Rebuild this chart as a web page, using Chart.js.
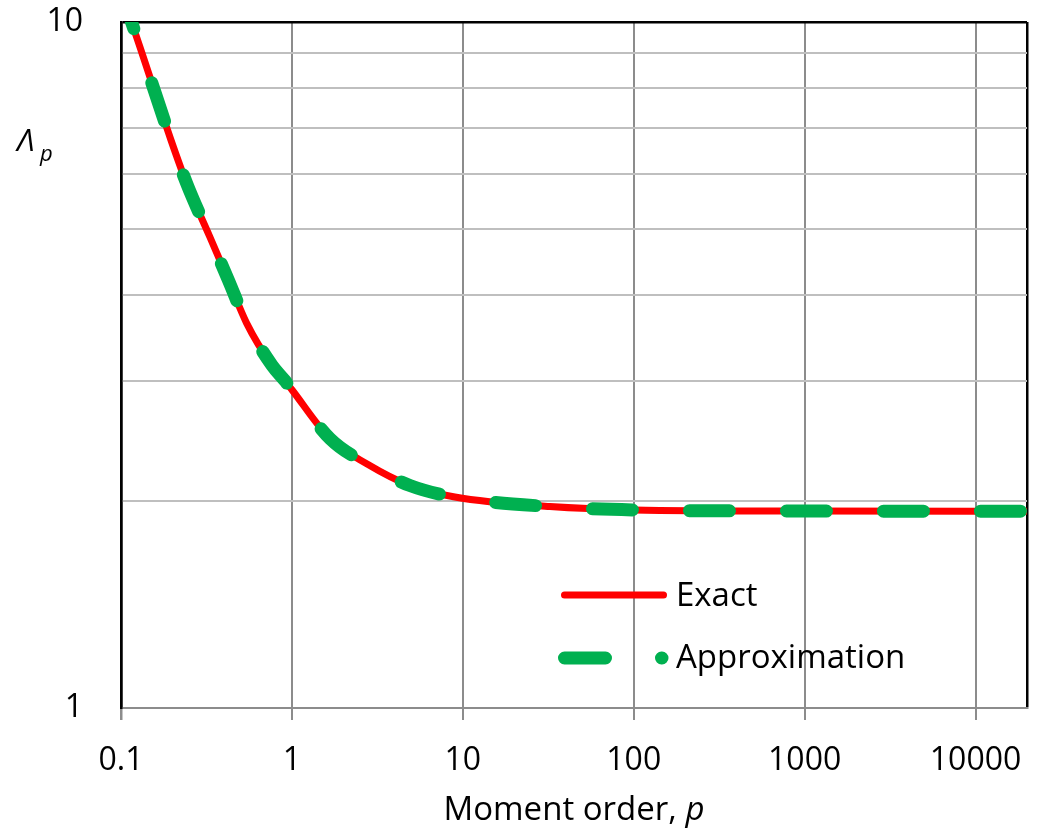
<!DOCTYPE html>
<html>
<head>
<meta charset="utf-8">
<script src="https://cdn.jsdelivr.net/npm/chart.js@4.4.0/dist/chart.umd.min.js"></script>
<style>
  body { margin: 0; background: #fff; }
  #wrap { position: relative; width: 1037px; height: 831px; font-family: 'Open Sans', sans-serif; color: #000; }
  .lbl { position: absolute; white-space: nowrap; line-height: 1; }
  #legendSvg { position: absolute; left: 0; top: 0; }
</style>
</head>
<body>
<div id="wrap">
  <canvas id="chart" width="1037" height="831"></canvas>

  <!-- y title -->
  <div class="lbl" style="left:17px; top:124px; font-size:31px; font-style:italic;">Λ</div>
  <div class="lbl" style="left:40px; top:141px; font-size:22px; font-style:italic;">p</div>

  <!-- x title -->
  <div class="lbl" style="left:121px; width:906px; top:791px; font-size:33px; text-align:center;">Moment order, <i>p</i></div>

  <!-- legend -->
  <svg id="legendSvg" width="1037" height="831">
    <line x1="564.5" y1="595" x2="663.5" y2="595" stroke="#ff0000" stroke-width="7" stroke-linecap="round"/>
    <line x1="564.5" y1="658" x2="662" y2="658" stroke="#00b050" stroke-width="13" stroke-linecap="round" stroke-dasharray="41 56"/>
  </svg>
  <div class="lbl" style="left:676px; top:577px; font-size:33px;">Exact</div>
  <div class="lbl" style="left:676px; top:639px; font-size:33px;">Approximation</div>
</div>

<script>
// moment order p and Lambda_p
const pValues = [0.1, 0.129, 0.196, 0.242, 0.331, 0.424, 0.543, 0.764, 0.91, 1, 1.67, 2.74, 4.9, 8.98, 32.3, 100, 1000, 10000, 20000];
const exactValues = [11.1, 9.2, 6.73, 5.82, 4.86, 4.21, 3.64, 3.16, 3.0, 2.91, 2.47, 2.27, 2.11, 2.03, 1.966, 1.944, 1.937, 1.936, 1.936];
const approxValues = [11.1, 9.2, 6.73, 5.82, 4.86, 4.21, 3.64, 3.16, 3.0, 2.91, 2.47, 2.27, 2.11, 2.03, 1.966, 1.944, 1.937, 1.936, 1.936];

// axis ticks
const xTicks = [0.1, 1, 10, 100, 1000, 10000, 20000];
const xTickLabels = ['0.1', '1', '10', '100', '1000', '10000', ''];
const yTicks = [1, 2, 3, 4, 5, 6, 7, 8, 9, 10];
const yTickLabels = ['1', '', '', '', '', '', '', '', '', '10'];

const toPoints = (xs, ys) => xs.map((x, i) => ({ x: x, y: ys[i] }));

const tickFont = { family: "'Open Sans', sans-serif", size: 32 };

// keep the plot area where the picture has it, labels may overhang
const noOverhang = scale => {
  scale.paddingTop = 0;
  scale.paddingBottom = 0;
  scale.paddingLeft = 0;
  scale.paddingRight = 0;
};

const ctx = document.getElementById('chart').getContext('2d');
const chart = new Chart(ctx, {
  type: 'line',
  data: {
    datasets: [{
      label: 'Exact',
      data: toPoints(pValues, exactValues),
      borderColor: '#ff0000',
      borderWidth: 7,
      pointRadius: 0,
      cubicInterpolationMode: 'monotone',
      clip: 0,
      order: 1
    }, {
      label: 'Approximation',
      data: toPoints(pValues, approxValues),
      borderColor: '#00b050',
      borderWidth: 13,
      borderDash: [40, 57],
      borderCapStyle: 'round',
      pointRadius: 0,
      cubicInterpolationMode: 'monotone',
      clip: 0,
      order: 0
    }]
  },
  options: {
    responsive: false,
    animation: false,
    layout: { padding: { top: 22, right: 10, left: 0, bottom: 0 } },
    plugins: {
      legend: { display: false },
      tooltip: { enabled: false }
    },
    scales: {
      x: {
        type: 'logarithmic',
        min: 0.1,
        max: 20000,
        afterBuildTicks: scale => { scale.ticks = xTicks.map(v => ({ value: v })); },
        afterFit: scale => { scale.height = 123; noOverhang(scale); },
        ticks: {
          autoSkip: false,
          maxRotation: 0,
          padding: 22,
          color: '#000',
          font: tickFont,
          callback: v => xTickLabels[xTicks.indexOf(v)]
        },
        grid: {
          color: c => (c.tick && (c.tick.value === 0.1 || c.tick.value === 20000)) ? '#000' : '#8c8c8c',
          lineWidth: c => (c.tick && (c.tick.value === 0.1 || c.tick.value === 20000)) ? 2.5 : 2,
          tickColor: c => (c.tick && c.tick.value === 20000) ? 'rgba(0,0,0,0)' : '#8c8c8c',
          tickLength: 12
        },
        border: { display: true, color: '#8c8c8c', width: 2 }
      },
      y: {
        type: 'logarithmic',
        min: 1,
        max: 10,
        afterBuildTicks: scale => { scale.ticks = yTicks.map(v => ({ value: v })); },
        afterFit: scale => { scale.width = 121; noOverhang(scale); },
        ticks: {
          autoSkip: false,
          padding: 38,
          color: '#000',
          font: tickFont,
          callback: v => yTickLabels[yTicks.indexOf(v)]
        },
        grid: {
          drawTicks: false,
          color: c => {
            if (!c.tick) return '#bfbfbf';
            if (c.tick.value === 10) return '#000';
            if (c.tick.value === 1) return '#8c8c8c';
            return '#bfbfbf';
          },
          lineWidth: c => (c.tick && c.tick.value === 10) ? 2.5 : 2
        },
        border: { display: true, color: '#000', width: 2.5 }
      }
    }
  }
});
</script>
</body>
</html>
